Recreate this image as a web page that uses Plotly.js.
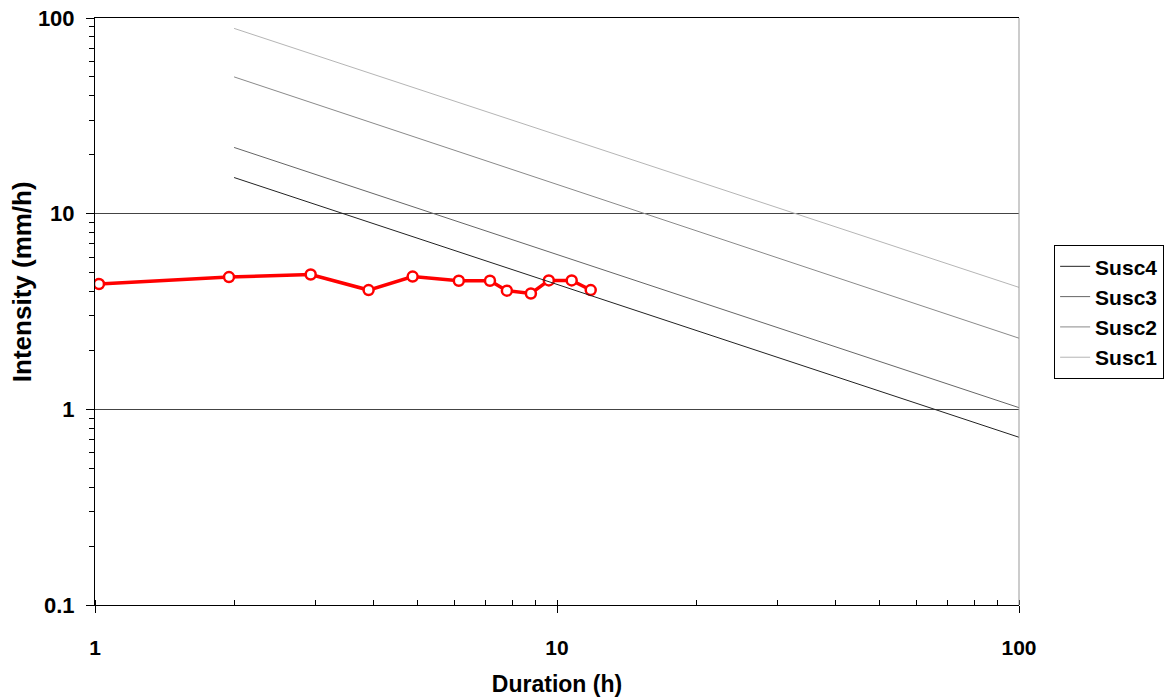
<!DOCTYPE html>
<html>
<head>
<meta charset="utf-8">
<script src="https://cdn.plot.ly/plotly-3.0.1.min.js"></script>
<style>html,body{margin:0;padding:0;background:#fff;}#chart{width:1168px;height:697px;}</style>
</head>
<body>
<div id="chart"></div>
<script>
// Observed rainfall event
const duration = [1.02, 1.95, 2.93, 3.91, 4.87, 6.13, 7.16, 7.79, 8.78, 9.6, 10.76, 11.83];
const intensity = [4.37, 4.74, 4.89, 4.07, 4.77, 4.54, 4.54, 4.04, 3.91, 4.56, 4.56, 4.07];

// Susceptibility threshold lines (endpoints)
const thrDuration = [2, 100];
const susc4 = [15.3, 0.72];
const susc3 = [21.8, 1.02];
const susc2 = [50, 2.31];
const susc1 = [88.5, 4.2];

const seriesNames = ['Susc4', 'Susc3', 'Susc2', 'Susc1'];
const seriesVals = [susc4, susc3, susc2, susc1];
const seriesColors = ['#222222', '#666666', '#8a8a8a', '#b5b5b5'];

const xTickVals = [1, 10, 100];
const xTickText = ['1', '10', '100'];
const yTickVals = [0.1, 1, 10, 100];
const yTickText = ['0.1', '1', '10', '100'];

const font = 'Arial, "Liberation Sans", sans-serif';

const traces = [{
  x: duration, y: intensity, type: 'scatter', mode: 'lines+markers',
  showlegend: false,
  line: {color: '#ff0000', width: 3.5},
  marker: {symbol: 'circle', size: 10, color: '#ffffff', line: {color: '#ff0000', width: 2.5}}
}];
seriesNames.forEach((n, i) => {
  traces.push({
    x: thrDuration, y: seriesVals[i], type: 'scatter', mode: 'lines', name: n,
    line: {color: seriesColors[i], width: 1}
  });
});

const layout = {
  width: 1168, height: 697,
  margin: {l: 95, r: 149, t: 18, b: 92, autoexpand: false},
  paper_bgcolor: '#fff', plot_bgcolor: '#fff',
  font: {family: font, color: '#000'},
  showlegend: true,
  legend: {
    x: 1.038, y: 0.613, xanchor: 'left', yanchor: 'top',
    bordercolor: '#000', borderwidth: 1, bgcolor: '#fff',
    font: {family: font, size: 21, weight: 'bold', color: '#000'},
    tracegroupgap: 0, itemwidth: 30
  },
  xaxis: {
    type: 'log', range: [0, 2],
    tickvals: xTickVals, ticktext: xTickText,
    ticks: 'outside', ticklen: 7, tickcolor: '#000',
    ticklabelstandoff: 17,
    showgrid: false, zeroline: false,
    showline: true, linecolor: '#000', linewidth: 1, mirror: true,
    tickfont: {family: font, size: 21, weight: 'bold'},
    minor: {ticks: 'inside', ticklen: 5, tickcolor: '#000', dtick: 'D1', showgrid: false},
    title: {text: 'Duration (h)', font: {family: font, size: 23, weight: 'bold'}, standoff: 20}
  },
  yaxis: {
    type: 'log', range: [-1, 2],
    tickvals: yTickVals, ticktext: yTickText,
    ticks: 'outside', ticklen: 8, tickcolor: '#000',
    ticklabelstandoff: 7,
    showgrid: true, gridcolor: '#444', gridwidth: 1,
    zeroline: false,
    showline: true, linecolor: '#000', linewidth: 1,
    tickfont: {family: font, size: 22, weight: 'bold'},
    minor: {ticks: 'outside', ticklen: 5, tickcolor: '#000', dtick: 'D1', showgrid: false}
  },
  annotations: [{
    text: 'Intensity (mm/h)', xref: 'paper', yref: 'paper',
    x: -0.079, y: 0.55, xanchor: 'center', yanchor: 'middle',
    textangle: -90, showarrow: false,
    font: {family: font, size: 26, weight: 'bold', color: '#000'}
  }],
  shapes: [{
    type: 'line', xref: 'paper', yref: 'paper', x0: 1, x1: 1, y0: 0, y1: 1,
    line: {color: '#999', width: 1}
  }]
};

Plotly.newPlot('chart', traces, layout, {displayModeBar: false, staticPlot: true});
</script>
</body>
</html>
